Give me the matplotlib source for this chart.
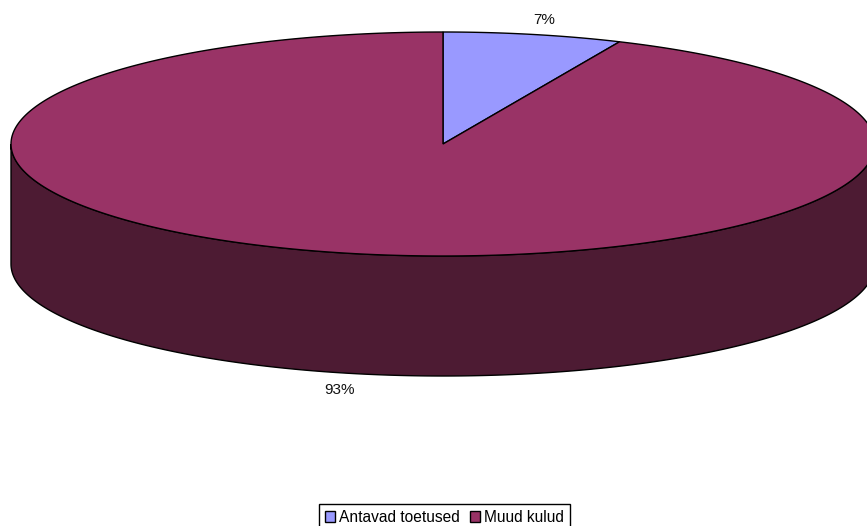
import numpy as np
import matplotlib
matplotlib.use("Agg")
import matplotlib.pyplot as plt
from matplotlib.patches import Patch

plt.rcParams['font.family'] = ['Liberation Sans', 'DejaVu Sans']

categories = ["Antavad toetused", "Muud kulud"]
values = [6.7, 93.3]
labels = ["7%", "93%"]
colors = ["#9999FF", "#993366"]
side_color = "#4D1B33"

# pie geometry in pixels
cx, cy = 443, 144
rx, ry = 432, 112
depth = 120


def rim(a0, a1):
    # a is degrees clockwise from 12 o'clock
    a = np.radians(np.linspace(a0, a1, 400))
    return cx + rx * np.sin(a), cy - ry * np.cos(a)


fig = plt.figure(figsize=(8.67, 5.26), dpi=100)
ax = fig.add_axes([0, 0, 1, 1])
ax.set_xlim(0, 867)
ax.set_ylim(526, 0)
ax.axis('off')

# side wall, front half only
x, y = rim(90, 270)
ax.fill(np.r_[x, x[::-1]], np.r_[y, y[::-1] + depth], fc=side_color, ec='black', lw=1.0)

# top slices
angles = np.cumsum([0] + values) * 3.6
for i in range(len(values)):
    x, y = rim(angles[i], angles[i + 1])
    ax.fill(np.r_[cx, x], np.r_[cy, y], fc=colors[i], ec='black', lw=1.0, joinstyle='miter')

ax.text(544.5, 19.5, labels[0], ha='center', va='center', fontsize=11, color='#111111')
ax.text(339.5, 389.5, labels[1], ha='center', va='center', fontsize=11, color='#111111')

handles = [Patch(fc=c, ec='black', lw=1.0) for c in colors]
ax.legend(handles, categories, ncol=2, loc='lower left',
          bbox_to_anchor=(319 / 867, -5 / 526), borderaxespad=0,
          fontsize=11.2, frameon=True, fancybox=False, framealpha=1,
          edgecolor='black', handlelength=0.65, handleheight=0.65,
          handletextpad=0.27, columnspacing=0.65, borderpad=0.38, labelspacing=0)

fig.savefig("out.png", dpi=100)
